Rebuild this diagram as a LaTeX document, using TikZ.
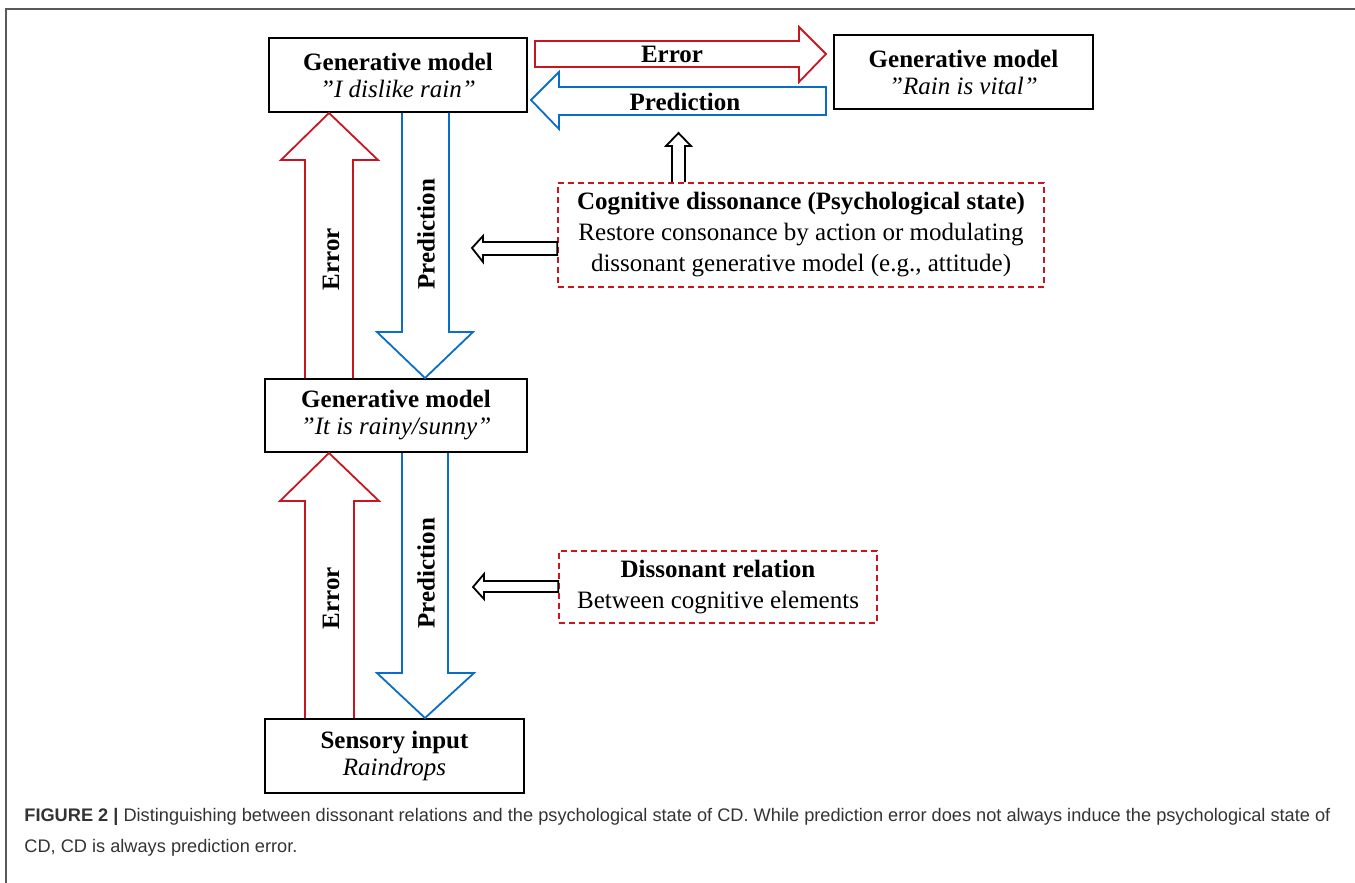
\documentclass[tikz,border=0pt]{standalone}
\usepackage{fontspec}
\setmainfont{Liberation Serif}
\newfontfamily\capfont{Liberation Sans}
\usepackage{tikz}
\usetikzlibrary{arrows.meta, positioning, calc}
\usepackage[dvipsnames, svgnames]{xcolor}
\definecolor{errred}{RGB}{200,22,32}
\definecolor{predblue}{RGB}{10,110,200}
\definecolor{framegray}{RGB}{90,90,90}

\begin{document}
\begin{tikzpicture}[x=0.5pt, y=-0.5pt,
    gmbox/.style={draw, line width=1pt, fill=white, minimum width=129pt, minimum height=37pt,
        align=center, font=\fontsize{12.5}{13.5}\selectfont, inner sep=0pt},
    cdbox/.style={draw=errred, line width=0.8pt, dash pattern=on 3pt off 2pt, align=center,
        inner sep=0pt, font=\fontsize{12.5}{15.5}\selectfont},
    errline/.style={draw=errred, line width=0.9pt, line join=miter},
    predline/.style={draw=predblue, line width=0.9pt, line join=miter},
    pushline/.style={draw=black, line width=0.9pt, line join=miter},
    arrlabel/.style={font=\fontsize{12.5}{13.5}\selectfont\bfseries, inner sep=0pt}]
    \useasboundingbox (0,0) rectangle (1355,883);

    % Frame
    \draw[framegray, line width=1pt] (6,883) -- (6,9) -- (1355,9);

    % Generative models
    \node[gmbox] (gmTop) at (398,75) {{\bfseries Generative model}\\{\itshape ”I dislike rain”}};
    \node[gmbox, minimum width=129.5pt] (gmVital) at (963.5,72) {{\bfseries Generative model}\\{\itshape ”Rain is vital”}};
    \node[gmbox, minimum width=131pt, minimum height=36.5pt] (gmRain) at (396,415.5) {{\bfseries Generative model}\\{\itshape ”It is rainy/sunny”}};
    \node[gmbox, minimum width=129.5pt] (sensory) at (394.5,756) {{\bfseries Sensory input}\\{\itshape Raindrops}};

    % Dissonance boxes
    \node[cdbox, minimum width=243pt, minimum height=52pt] (cdState) at (801,235)
        {{\bfseries Cognitive dissonance (Psychological state)}\\Restore consonance by action or modulating\\dissonant generative model (e.g., attitude)};
    \node[cdbox, minimum width=159pt, minimum height=36pt] (dissRel) at (718,587)
        {{\bfseries Dissonant relation}\\Between cognitive elements};

    % Error / prediction between the upper models
    \draw[errline] (535,41) -- (799,41) -- (799,27) -- (826,54) -- (799,82) -- (799,67) -- (535,67) -- cycle;
    \draw[predline] (826,87) -- (559,87) -- (559,72) -- (531,100) -- (559,129) -- (559,115) -- (826,115) -- cycle;
    \node[arrlabel] (errH) at (672,54) {Error};
    \node[arrlabel] (predH) at (685,102) {Prediction};

    % Upper level
    \draw[errline] (305,0 |- gmRain.north) -- (305,160) -- (281,160) -- (329,0 |- gmTop.south)
        -- (378,160) -- (353,160) -- (353,0 |- gmRain.north);
    \draw[predline] (402,0 |- gmTop.south) -- (402,332) -- (377,332) -- (425,0 |- gmRain.north)
        -- (473,332) -- (449,332) -- (449,0 |- gmTop.south);
    \node[arrlabel, rotate=90] (errUp) at (331,259) {Error};
    \node[arrlabel, rotate=90] (predUp) at (426,234) {Prediction};

    % Lower level
    \draw[errline] (305,0 |- sensory.north) -- (305,501) -- (280,501) -- (329,0 |- gmRain.south)
        -- (379,501) -- (354,501) -- (354,0 |- sensory.north);
    \draw[predline] (402,0 |- gmRain.south) -- (402,673) -- (377,673) -- (425,0 |- sensory.north)
        -- (474,673) -- (448,673) -- (448,0 |- gmRain.south);
    \node[arrlabel, rotate=90] (errLow) at (331,598) {Error};
    \node[arrlabel, rotate=90] (predLow) at (426,573) {Prediction};

    % Hollow pointers from the dissonance boxes
    \draw[pushline] (672,0 |- cdState.north) -- (672,146) -- (666,146) -- (678.5,133) -- (691,146) -- (685,146) -- (685,0 |- cdState.north);
    \draw[pushline] (cdState.west |- 0,242) -- (483,242) -- (483,236) -- (472,248) -- (483,262) -- (483,255) -- (cdState.west |- 0,255) -- cycle;
    \draw[pushline] (dissRel.west |- 0,581) -- (484,581) -- (484,574) -- (473,587) -- (484,599) -- (484,592) -- (dissRel.west |- 0,592) -- cycle;

    % Caption
    \node[anchor=north west, align=left, inner sep=0pt, text=black!80,
        font=\capfont\fontsize{9.1}{15.5}\selectfont] (caption) at (24,808)
        {\textbf{FIGURE 2 |} Distinguishing between dissonant relations and the psychological state of CD. While prediction error does not always induce the psychological state of\\
         CD, CD is always prediction error.};
\end{tikzpicture}
\end{document}
